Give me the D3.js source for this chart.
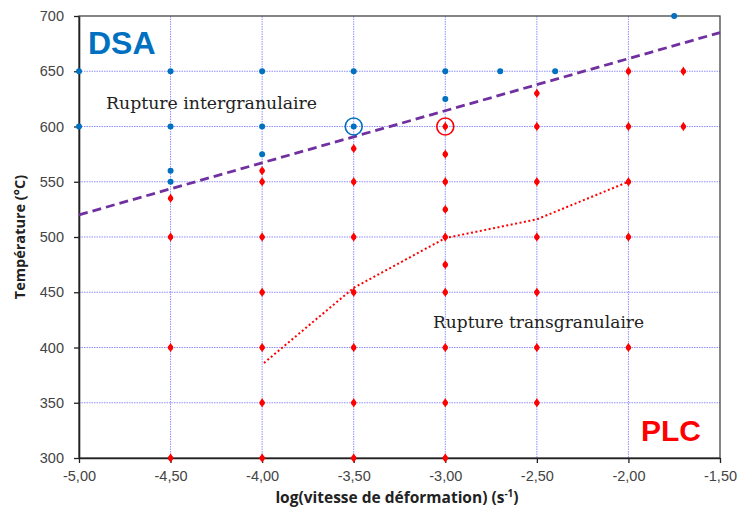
<!DOCTYPE html>
<html><head><meta charset="utf-8">
<script src="https://cdn.jsdelivr.net/npm/d3@7"></script>
<style>
html,body{margin:0;padding:0;background:#fff;}
svg{display:block;}
</style></head>
<body>
<svg id="chart" width="741" height="515"></svg>
<script>
// ---- data ----
const xTicks = [-5, -4.5, -4, -3.5, -3, -2.5, -2, -1.5];
const yTicks = [300, 350, 400, 450, 500, 550, 600, 650, 700];
const dsaX = [-5, -5, -4.5, -4.5, -4.5, -4.5, -4, -4, -4, -3.5, -3.5, -3, -3, -2.7, -2.4, -1.75];
const dsaY = [650, 600, 650, 600, 560, 550, 650, 600, 575, 650, 600, 650, 625, 650, 650, 700];
const plcX = [-4.5, -4.5, -4.5, -4.5,
  -4, -4, -4, -4, -4, -4, -4,
  -3.5, -3.5, -3.5, -3.5, -3.5, -3.5, -3.5,
  -3, -3, -3, -3, -3, -3, -3, -3, -3, -3,
  -2.5, -2.5, -2.5, -2.5, -2.5, -2.5, -2.5,
  -2, -2, -2, -2, -2,
  -1.7, -1.7];
const plcY = [535, 500, 400, 300,
  560, 550, 500, 450, 400, 350, 300,
  580, 550, 500, 450, 400, 350, 300,
  600, 575, 550, 525, 500, 475, 450, 400, 350, 300,
  630, 600, 550, 500, 450, 400, 350,
  650, 600, 550, 500, 400,
  650, 600];
const boundaryX = [-5, -1.5];
const boundaryY = [520, 685];
const plcLimitX = [-3.99, -3.5, -3, -2.5, -2];
const plcLimitY = [386, 454, 499, 516, 550];
const circledX = [-3.5, -3];
const circledY = [600, 600];
const circledColor = ["#0070C0", "#FF0000"];

// ---- chart ----
const svg = d3.select("#chart");
const m = {left: 79, right: 720, top: 16, bottom: 458};
const x = d3.scaleLinear().domain([-5, -1.5]).range([m.left, m.right]);
const y = d3.scaleLinear().domain([300, 700]).range([m.bottom, m.top]);
const fmt = d => d.toFixed(2).replace(".", ",");

// grid
const grid = svg.append("g");
grid.selectAll("line.v").data(xTicks.slice(1, -1)).enter().append("line")
  .attr("x1", d => x(d)).attr("x2", d => x(d)).attr("y1", m.top).attr("y2", m.bottom)
  .attr("stroke", "#8f8fff").attr("stroke-width", 1).attr("stroke-dasharray", "1.5,1");
grid.selectAll("line.h").data(yTicks.slice(1, -1)).enter().append("line")
  .attr("y1", d => y(d)).attr("y2", d => y(d)).attr("x1", m.left).attr("x2", m.right)
  .attr("stroke", "#8f8fff").attr("stroke-width", 1).attr("stroke-dasharray", "1.5,1");

// frame (top/right)
svg.append("rect").attr("x", m.left).attr("y", m.top)
  .attr("width", m.right - m.left).attr("height", m.bottom - m.top)
  .attr("fill", "none").attr("stroke", "#444").attr("stroke-width", 1.3);

// axes
const xAxis = svg.append("g").attr("transform", `translate(0,${m.bottom})`)
  .call(d3.axisBottom(x).tickValues(xTicks).tickFormat(fmt).tickSize(5).tickSizeOuter(0));
const yAxis = svg.append("g").attr("transform", `translate(${m.left},0)`)
  .call(d3.axisLeft(y).tickValues(yTicks).tickFormat(d3.format("d")).tickSize(5).tickSizeOuter(0));
[xAxis, yAxis].forEach(a => {
  a.select(".domain").attr("stroke", "#222").attr("stroke-width", 1.6);
  a.selectAll(".tick line").attr("stroke", "#222").attr("stroke-width", 1.3);
  a.selectAll(".tick text").attr("fill", "#444").attr("font-family", "Liberation Sans, Arial, sans-serif").attr("font-size", 14.5);
});
xAxis.selectAll(".tick text").attr("dy", "1.05em");
yAxis.selectAll(".tick text").attr("x", -15);

// boundary lines
const line = d3.line().x(d => x(d[0])).y(d => y(d[1]));
svg.append("path").datum(d3.zip(boundaryX, boundaryY)).attr("d", line)
  .attr("fill", "none").attr("stroke", "#7030A0").attr("stroke-width", 2.8).attr("stroke-dasharray", "9,5");
svg.append("path").datum(d3.zip(plcLimitX, plcLimitY)).attr("d", line)
  .attr("fill", "none").attr("stroke", "#FF0000").attr("stroke-width", 2).attr("stroke-dasharray", "2,2.5");

// points
const plcG = svg.append("g").selectAll("g").data(d3.zip(plcX, plcY)).enter().append("g")
  .attr("transform", d => `translate(${x(d[0])},${y(d[1])})`);
plcG.append("path").attr("d", d3.symbol().type(d3.symbolDiamond).size(26)).attr("fill", "#FF0000");
plcG.append("circle").attr("r", 2.6).attr("fill", "#FF0000");
svg.append("g").selectAll("circle").data(d3.zip(dsaX, dsaY)).enter().append("circle")
  .attr("cx", d => x(d[0])).attr("cy", d => y(d[1])).attr("r", 3)
  .attr("fill", "#0070C0");

// circled points
svg.append("g").selectAll("circle").data(d3.range(circledX.length)).enter().append("circle")
  .attr("cx", i => x(circledX[i])).attr("cy", i => y(circledY[i])).attr("r", 8.5)
  .attr("fill", "none").attr("stroke", i => circledColor[i]).attr("stroke-width", 1.6);

// annotations
svg.append("text").attr("x", 88).attr("y", 54).text("DSA")
  .attr("font-family", "Liberation Sans, Arial, sans-serif").attr("font-weight", "bold")
  .attr("font-size", 32).attr("fill", "#0070C0");
svg.append("text").attr("x", 641).attr("y", 441).text("PLC")
  .attr("font-family", "Liberation Sans, Arial, sans-serif").attr("font-weight", "bold")
  .attr("font-size", 30).attr("fill", "#FF0000");
svg.append("text").attr("x", 106).attr("y", 109).text("Rupture intergranulaire")
  .attr("font-family", "DejaVu Serif, serif").attr("font-size", 16)
  .attr("textLength", 211).attr("lengthAdjust", "spacingAndGlyphs").attr("fill", "#222");
svg.append("text").attr("x", 433).attr("y", 328).text("Rupture transgranulaire")
  .attr("font-family", "DejaVu Serif, serif").attr("font-size", 16)
  .attr("textLength", 211).attr("lengthAdjust", "spacingAndGlyphs").attr("fill", "#222");

// axis titles
const xt = svg.append("text").attr("x", 397).attr("y", 503).attr("text-anchor", "middle")
  .attr("font-family", "Open Sans, sans-serif").attr("font-weight", "bold").attr("font-size", 15.5).attr("fill", "#222");
xt.append("tspan").text("log(vitesse de déformation) (s");
xt.append("tspan").text("-1").attr("font-size", 10).attr("dy", -6);
xt.append("tspan").text(")").attr("dy", 6);
svg.append("text").attr("transform", "translate(25,237) rotate(-90)").attr("text-anchor", "middle")
  .attr("font-family", "Open Sans, sans-serif").attr("font-weight", "bold").attr("font-size", 14.5).attr("fill", "#222")
  .text("Température (°C)");
</script>
</body></html>
